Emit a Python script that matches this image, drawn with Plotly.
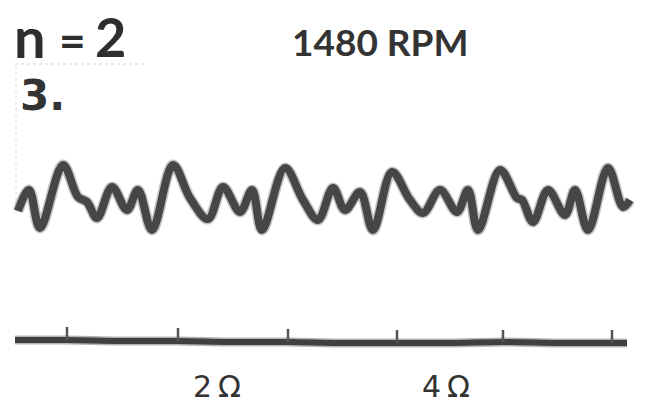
import plotly.graph_objects as go

# Waveform trace (time position, deflection)
wave_t = [18, 29, 40, 63, 78, 87, 97, 112, 127, 138, 152, 173, 190, 208, 223, 240, 252, 262,
          285, 303, 318, 333, 345, 360, 373, 392, 410, 423, 440, 457, 468, 478, 500, 517,
          522, 533, 548, 565, 575, 588, 608, 623, 630]
wave_y = [211, 190, 228, 165, 197, 202, 218, 187, 210, 190, 230, 165, 198, 219, 187, 212, 190, 230,
          168, 200, 220, 188, 210, 192, 230, 172, 200, 213, 190, 212, 190, 230, 170, 198,
          200, 222, 190, 215, 190, 230, 168, 207, 200]

# Reference (once-per-rev) trace
base_t = [15, 67, 120, 178, 230, 288, 340, 397, 450, 504, 560, 612, 627]
base_y = [340, 340, 341, 341, 342, 342, 343, 343, 343, 342, 343, 343, 343]
tick_t = [67, 178, 288, 397, 503, 612]
tick_top = [327, 328, 329, 330, 330, 330]
tick_bottom = [340, 341, 342, 343, 342, 343]

labels = ["2\u2009Ω", "4\u2009Ω"]
label_t = [217, 446]

fig = go.Figure()

fig.add_trace(go.Scatter(x=wave_t, y=wave_y, mode="lines",
                         line=dict(color="rgba(90,90,90,0.35)", width=11, shape="spline", smoothing=1.0),
                         hoverinfo="skip", showlegend=False))
fig.add_trace(go.Scatter(x=wave_t, y=wave_y, mode="lines",
                         line=dict(color="#464646", width=8, shape="spline", smoothing=1.0),
                         showlegend=False))

fig.add_trace(go.Scatter(x=base_t, y=base_y, mode="lines",
                         line=dict(color="rgba(70,70,70,0.4)", width=9, shape="spline"),
                         hoverinfo="skip", showlegend=False))
fig.add_trace(go.Scatter(x=base_t, y=base_y, mode="lines",
                         line=dict(color="#404040", width=6, shape="spline"),
                         showlegend=False))
tx, ty = [], []
for t, a, b in zip(tick_t, tick_top, tick_bottom):
    tx += [t, t, None]
    ty += [a, b, None]
fig.add_trace(go.Scatter(x=tx, y=ty, mode="lines",
                         line=dict(color="#555555", width=2.5), showlegend=False))

# faint guide lines of the scan
fig.add_trace(go.Scatter(x=[15, 147], y=[64, 64], mode="lines",
                         line=dict(color="rgba(150,150,150,0.4)", width=1, dash="dot"),
                         showlegend=False))
fig.add_trace(go.Scatter(x=[16, 16], y=[66, 215], mode="lines",
                         line=dict(color="rgba(150,150,150,0.35)", width=1, dash="dot"),
                         showlegend=False))

lato = "Lato, DejaVu Sans, sans-serif"
ink = "#2e2e2e"
anns = [
    dict(x=30, y=36, text="<b>n</b>", font=dict(size=56, family=lato, color=ink), xanchor="center"),
    dict(x=72, y=39, text="<b>=</b>", font=dict(size=46, family=lato, color=ink), xanchor="center"),
    dict(x=110, y=36, text="<b>2</b>", font=dict(size=54, family=lato, color=ink), xanchor="center"),
    dict(x=380, y=41, text="<b>1480 RPM</b>", font=dict(size=37, family=lato, color="#333333"), xanchor="center"),
    dict(x=18, y=95, text="<b>3.</b>", font=dict(size=42, family="DejaVu Sans", color="#333333"), xanchor="left"),
]
for t, lab in zip(label_t, labels):
    anns.append(dict(x=t, y=386, text=lab, font=dict(size=30, family="DejaVu Sans", color="#333333"), xanchor="center"))
for a in anns:
    a.update(xref="x", yref="y", showarrow=False, yanchor="middle")

fig.update_layout(
    width=657, height=410,
    margin=dict(l=0, r=0, t=0, b=0),
    paper_bgcolor="white", plot_bgcolor="white",
    xaxis=dict(range=[0, 657], visible=False, fixedrange=True),
    yaxis=dict(range=[410, 0], visible=False, fixedrange=True),
    annotations=anns,
)
fig.write_html("out.html", config={"displayModeBar": False},
               post_script="document.body.style.margin='0';")
